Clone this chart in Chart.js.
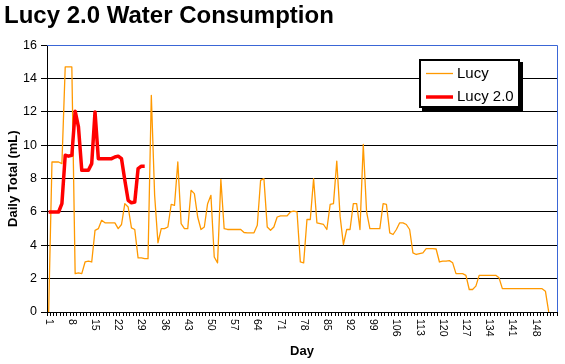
<!DOCTYPE html>
<html>
<head>
<meta charset="utf-8">
<script src="https://cdn.jsdelivr.net/npm/chart.js@4/dist/chart.umd.min.js"></script>
<style>
  html, body { margin: 0; padding: 0; background: #fff; }
  canvas { display: block; }
</style>
</head>
<body>
<canvas id="c" width="565" height="364"></canvas>
<script>
// ---- data ----
const chartTitle = 'Lucy 2.0 Water Consumption';
const xAxisTitle = 'Day';
const yAxisTitle = 'Daily Total (mL)';
const dayCount = 154;
const dayLabels = Array.from({length: dayCount}, (_, i) => String(i + 1));
const yTicks = [0, 2, 4, 6, 8, 10, 12, 14, 16];

const seriesNames = ['Lucy', 'Lucy 2.0'];
const lucy = [
  0, 9.0, 9.0, 9.0, 8.9, 14.7, 14.7, 14.7, 2.3, 2.35,
  2.3, 3.0, 3.05, 3.0, 4.9, 5.0, 5.5, 5.35, 5.35, 5.35,
  5.35, 5.0, 5.25, 6.5, 6.3, 5.05, 4.95, 3.25, 3.25, 3.2,
  3.2, 13.0, 7.0, 4.15, 5.0, 5.0, 5.1, 6.45, 6.4, 9.0,
  5.3, 5.0, 5.0, 7.3, 7.1, 5.7, 4.95, 5.1, 6.5, 7.0,
  3.3, 2.95, 7.95, 5.0, 4.95, 4.95, 4.95, 4.95, 4.95, 4.77,
  4.75, 4.75, 4.75, 5.2, 7.9, 8.0, 5.1, 4.9, 5.1, 5.7,
  5.77, 5.77, 5.77, 6.0, 6.05, 6.0, 3.0, 2.95, 5.55, 5.55,
  8.0, 5.35, 5.3, 5.25, 4.95, 6.45, 6.5, 9.05, 5.75, 4.05,
  4.95, 4.95, 6.5, 6.5, 4.95, 10.05, 6.0, 5.0, 5.0, 5.0,
  5.0, 6.5, 6.45, 4.75, 4.65, 4.95, 5.35, 5.35, 5.25, 4.95,
  3.55, 3.45, 3.5, 3.55, 3.8, 3.8, 3.8, 3.78, 3.0, 3.05,
  3.05, 3.08, 2.95, 2.3, 2.3, 2.3, 2.2, 1.35, 1.35, 1.55,
  2.2, 2.2, 2.2, 2.2, 2.2, 2.2, 2.05, 1.4, 1.4, 1.4,
  1.4, 1.4, 1.4, 1.4, 1.4, 1.4, 1.4, 1.4, 1.4, 1.4,
  1.25, 0
];
const lucy2 = [
  6.0, 6.0, 6.0, 6.0, 6.5, 9.4, 9.35, 9.4, 12.05, 11.1,
  8.5, 8.5, 8.5, 8.9, 12.0, 9.2, 9.2, 9.2, 9.2, 9.2,
  9.3, 9.35, 9.2, 7.9, 6.7, 6.55, 6.6, 8.6, 8.75, 8.75
];
const seriesColors = ['#FF9900', '#FF0000'];

// ---- styling ----
const FONT = '"Liberation Sans", Arial, Helvetica, sans-serif';
const BLUE = '#3a66d6';

const xLabelPlugin = {
  id: 'xLabels',
  afterDraw(chart) {
    const sc = chart.scales.x;
    const ctx = chart.ctx;
    ctx.save();
    ctx.font = '10.5px ' + FONT;
    ctx.fillStyle = '#000';
    ctx.textAlign = 'left';
    ctx.textBaseline = 'middle';
    dayLabels.forEach((lab, i) => {
      if (i % 7 !== 0) return;
      const x = sc.getPixelForTick(i);
      ctx.save();
      ctx.translate(x, sc.top + 7);
      ctx.rotate(Math.PI / 2);
      ctx.fillText(lab, 0, 0);
      ctx.restore();
    });
    ctx.restore();
  }
};

const borderPlugin = {
  id: 'blueBorder',
  beforeDatasetsDraw(chart) {
    const {ctx, chartArea} = chart;
    ctx.save();
    ctx.strokeStyle = BLUE;
    ctx.lineWidth = 1;
    ctx.beginPath();
    const x = Math.round(chartArea.right) + 0.5;
    const y = Math.round(chartArea.top) + 0.5;
    ctx.moveTo(chartArea.left, y);
    ctx.lineTo(x, y);
    ctx.lineTo(x, chartArea.bottom);
    ctx.stroke();
    ctx.restore();
  }
};

const legendPlugin = {
  id: 'boxLegend',
  afterDraw(chart) {
    const ctx = chart.ctx;
    const bx = 419, by = 59, bw = 101, bh = 49;
    ctx.save();
    ctx.fillStyle = '#000';
    ctx.fillRect(bx + 3, by + 3, bw, bh);
    ctx.fillStyle = '#fff';
    ctx.fillRect(bx, by, bw, bh);
    ctx.strokeStyle = '#000';
    ctx.lineWidth = 2;
    ctx.strokeRect(bx + 1, by + 1, bw - 2, bh - 2);
    const rows = [73.5, 97];
    const widths = [1.3, 3.5];
    ctx.font = '15px ' + FONT;
    ctx.textAlign = 'left';
    ctx.textBaseline = 'middle';
    chart.data.datasets.forEach((ds, i) => {
      ctx.strokeStyle = ds.borderColor;
      ctx.lineWidth = widths[i];
      ctx.beginPath();
      ctx.moveTo(426, rows[i]);
      ctx.lineTo(453, rows[i]);
      ctx.stroke();
      ctx.fillStyle = '#000';
      ctx.fillText(ds.label, 457, rows[i]);
    });
    ctx.restore();
  }
};

new Chart(document.getElementById('c'), {
  type: 'line',
  data: {
    labels: dayLabels,
    datasets: [
      {
        label: seriesNames[0],
        data: lucy,
        borderColor: seriesColors[0],
        backgroundColor: seriesColors[0],
        borderWidth: 1.3,
        borderJoinStyle: 'round',
        pointRadius: 0,
        tension: 0,
        fill: false,
        order: 1
      },
      {
        label: seriesNames[1],
        data: lucy2,
        borderColor: seriesColors[1],
        backgroundColor: seriesColors[1],
        borderWidth: 3.5,
        borderJoinStyle: 'round',
        pointRadius: 0,
        tension: 0,
        fill: false,
        order: 0
      }
    ]
  },
  options: {
    responsive: false,
    devicePixelRatio: 1,
    animation: false,
    layout: { padding: { left: 4, right: 8, top: 0, bottom: 0 } },
    plugins: {
      legend: { display: false },
      tooltip: { enabled: false },
      title: {
        display: true,
        text: chartTitle,
        align: 'start',
        color: '#000',
        font: { family: FONT, size: 24, weight: 'bold' },
        padding: { top: 2, bottom: 14.5 }
      }
    },
    scales: {
      x: {
        type: 'category',
        offset: true,
        afterFit(scale) { scale.height = 52; },
        grid: {
          offset: true,
          drawOnChartArea: false,
          drawTicks: true,
          tickLength: 4,
          color: '#000',
          tickColor: '#000'
        },
        border: { display: true, color: '#000', width: 1 },
        ticks: { display: false, autoSkip: false, maxRotation: 0 },
        title: {
          display: true,
          text: xAxisTitle,
          color: '#000',
          font: { family: FONT, size: 13, weight: 'bold' },
          padding: { top: 0, bottom: 5 }
        }
      },
      y: {
        min: 0,
        max: 16,
        afterFit(scale) { scale.width = 43; },
        afterBuildTicks(scale) { scale.ticks = yTicks.map(v => ({ value: v })); },
        grid: {
          color: (c) => (c.tick && c.tick.value === 16) ? BLUE : '#000',
          lineWidth: 1,
          drawTicks: true,
          tickLength: 6,
          tickColor: '#000'
        },
        border: { display: true, color: '#000', width: 1 },
        ticks: {
          color: '#000',
          padding: 4,
          font: { family: FONT, size: 12.5 }
        },
        title: {
          display: true,
          text: yAxisTitle,
          color: '#000',
          font: { family: FONT, size: 13, weight: 'bold' },
          padding: { top: 2, bottom: 0 }
        }
      }
    }
  },
  plugins: [borderPlugin, xLabelPlugin, legendPlugin]
});
</script>
</body>
</html>
